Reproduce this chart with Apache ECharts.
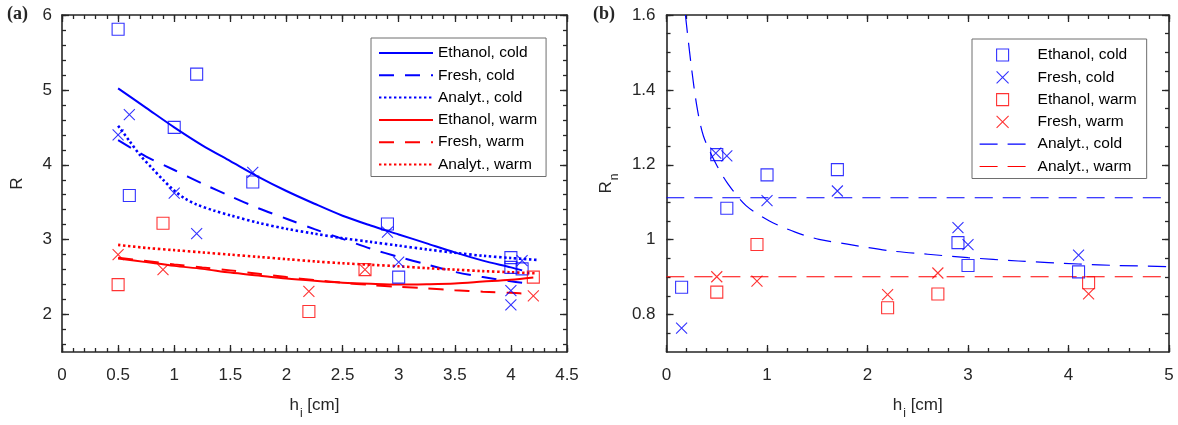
<!DOCTYPE html>
<html>
<head>
<meta charset="utf-8">
<script src="https://cdn.jsdelivr.net/npm/echarts@6/dist/echarts.min.js"></script>
<style>
  html, body { margin: 0; padding: 0; background: #fff; }
  #wrap { position: relative; width: 1178px; height: 425px; }
  #pa { position: absolute; left: 0; top: 0; width: 590px; height: 425px; }
  #pb { position: absolute; left: 590px; top: 0; width: 588px; height: 425px; }
</style>
</head>
<body>
<div id="wrap"><div id="pa"></div><div id="pb"></div></div>
<script>
// ---------- Panel (a): measured R ----------
const hEthColdA   = [0.5, 0.6, 1.0, 1.2, 1.7, 2.9, 3.0, 4.0, 4.0, 4.1];
const rEthColdA   = [5.81, 3.59, 4.50, 5.21, 3.77, 3.21, 2.50, 2.76, 2.63, 2.61];
const hFreshColdA = [0.5, 0.6, 1.0, 1.2, 1.7, 2.9, 3.0, 4.0, 4.0, 4.1];
const rFreshColdA = [4.40, 4.67, 3.62, 3.08, 3.90, 3.10, 2.70, 2.32, 2.13, 2.72];
const hEthWarmA   = [0.5, 0.9, 2.2, 2.7, 4.2];
const rEthWarmA   = [2.40, 3.22, 2.04, 2.60, 2.50];
const hFreshWarmA = [0.5, 0.9, 2.2, 2.7, 4.2];
const rFreshWarmA = [2.80, 2.60, 2.31, 2.60, 2.25];

// ---------- Panel (a): fitted and analytical curves ----------
const hEthColdFit   = [0.5, 0.75, 1.0, 1.25, 1.5, 1.75, 2.0, 2.25, 2.5, 2.75, 3.0, 3.25, 3.5, 3.75, 4.0, 4.1];
const rEthColdFit   = [5.02, 4.76, 4.50, 4.26, 4.05, 3.84, 3.65, 3.48, 3.32, 3.19, 3.07, 2.95, 2.83, 2.72, 2.63, 2.59];
const hFreshColdFit = [0.5, 0.75, 1.0, 1.25, 1.5, 1.75, 2.0, 2.25, 2.5, 2.75, 3.0, 3.25, 3.5, 3.75, 4.0, 4.1];
const rFreshColdFit = [4.33, 4.11, 3.93, 3.75, 3.58, 3.42, 3.28, 3.14, 3.01, 2.88, 2.77, 2.67, 2.57, 2.50, 2.445, 2.425];
const hAnaColdFit   = [0.5, 0.6, 0.7, 0.8, 0.9, 1.0, 1.1, 1.2, 1.35, 1.5, 1.75, 2.0, 2.25, 2.5, 2.75, 3.0, 3.25, 3.5, 3.75, 4.0, 4.23];
const rAnaColdFit   = [4.52, 4.32, 4.12, 3.96, 3.80, 3.655, 3.545, 3.47, 3.39, 3.325, 3.225, 3.145, 3.08, 3.02, 2.97, 2.92, 2.87, 2.825, 2.785, 2.755, 2.73];
const hEthWarmFit   = [0.5, 0.75, 1.0, 1.25, 1.5, 1.75, 2.0, 2.25, 2.5, 2.75, 3.0, 3.25, 3.5, 3.75, 4.0, 4.2];
const rEthWarmFit   = [2.75, 2.70, 2.65, 2.61, 2.56, 2.52, 2.48, 2.45, 2.425, 2.41, 2.40, 2.405, 2.415, 2.44, 2.465, 2.495];
const hFreshWarmFit = [0.5, 0.75, 1.0, 1.25, 1.5, 1.75, 2.0, 2.25, 2.5, 2.75, 3.0, 3.25, 3.5, 3.75, 4.0, 4.18];
const rFreshWarmFit = [2.76, 2.715, 2.67, 2.63, 2.59, 2.545, 2.50, 2.46, 2.425, 2.395, 2.37, 2.35, 2.325, 2.305, 2.29, 2.275];
const hAnaWarmFit   = [0.5, 0.75, 1.0, 1.25, 1.5, 1.75, 2.0, 2.25, 2.5, 2.75, 3.0, 3.25, 3.5, 3.75, 4.0, 4.22];
const rAnaWarmFit   = [2.93, 2.89, 2.86, 2.83, 2.80, 2.77, 2.74, 2.71, 2.685, 2.665, 2.645, 2.62, 2.60, 2.58, 2.565, 2.55];

// ---------- Panel (b): normalised Rn ----------
const hEthColdB   = [0.15, 0.5, 0.6, 1.0, 1.7, 2.9, 3.0, 4.1];
const rnEthColdB  = [0.873, 1.227, 1.084, 1.173, 1.187, 0.992, 0.931, 0.914];
const hFreshColdB = [0.15, 0.49, 0.6, 1.0, 1.7, 2.9, 3.0, 4.1];
const rnFreshColdB= [0.764, 1.231, 1.224, 1.104, 1.13, 1.032, 0.987, 0.959];
const hEthWarmB   = [0.5, 0.9, 2.2, 2.7, 4.2];
const rnEthWarmB  = [0.86, 0.987, 0.818, 0.855, 0.885];
const hFreshWarmB = [0.5, 0.9, 2.2, 2.7, 4.2];
const rnFreshWarmB= [0.901, 0.889, 0.853, 0.911, 0.855];

const hAnaColdB   = [0.188, 0.197, 0.246, 0.302, 0.367, 0.493, 0.611, 0.791, 1.024, 1.281, 1.517, 1.8, 2.2, 2.6, 3.0, 3.5, 4.1, 4.5, 5.0];
const rnAnaColdB  = [1.60, 1.578, 1.464, 1.356, 1.277, 1.202, 1.149, 1.091, 1.05, 1.02, 1.001, 0.988, 0.971, 0.961, 0.952, 0.943, 0.935, 0.931, 0.928];
const hMeanB      = [0, 5];
const rnMeanColdB = [1.112, 1.112];
const rnMeanWarmB = [0.901, 0.901];

// ---------- Axis ticks and labels ----------
const hTicksA  = [0, 0.5, 1, 1.5, 2, 2.5, 3, 3.5, 4, 4.5];
const rTicksA  = [2, 3, 4, 5, 6];
const hTicksB  = [0, 1, 2, 3, 4, 5];
const rnTicksB = [0.8, 1, 1.2, 1.4, 1.6];

const BLUE = '#0000ff';
const RED = '#ff0000';
const INK = '#262626';
const FONT = "'Liberation Sans', Arial, Helvetica, sans-serif";
const SQUARE = 'path://M0,0L10,0L10,10L0,10Z';
const CROSS = 'path://M0,0L10,10M10,0L0,10';

function pts(xs, ys) { return xs.map((x, i) => [x, ys[i]]); }
function steps(from, to, step) {
  const out = [];
  const n = Math.round((to - from) / step);
  for (let i = 0; i <= n; i++) out.push(Math.round((from + i * step) * 1000) / 1000);
  return out;
}

// Boxed axes with inward ticks on all four sides
function boxAxes(o) {
  const base = { type: 'value', min: o.min, max: o.max, splitLine: { show: false }, silent: true };
  const line = { show: true, onZero: false, lineStyle: { color: INK, width: 1.6 } };
  const tickStyle = { color: INK, width: 1.3 };
  const main = Object.assign({}, base, {
    position: o.pos[0],
    axisLine: line,
    axisTick: { show: true, inside: true, length: 7, customValues: o.major, lineStyle: tickStyle },
    axisLabel: { show: true, customValues: o.labels, margin: o.margin, color: INK, fontSize: 17, fontFamily: FONT },
    name: o.name, nameLocation: 'middle', nameGap: o.nameGap,
    nameTextStyle: { color: INK, fontFamily: FONT, rich: o.rich }
  });
  const minorMain = Object.assign({}, base, {
    position: o.pos[0],
    axisLine: { show: false, onZero: false },
    axisTick: { show: true, inside: true, length: 4, customValues: o.minor, lineStyle: tickStyle },
    axisLabel: { show: false }
  });
  const opp = Object.assign({}, base, {
    position: o.pos[1],
    axisLine: line,
    axisTick: { show: true, inside: true, length: 7, customValues: o.major, lineStyle: tickStyle },
    axisLabel: { show: false }
  });
  const minorOpp = Object.assign({}, minorMain, { position: o.pos[1] });
  return [main, minorMain, opp, minorOpp];
}

const subRich = {
  a: { fontSize: 17, lineHeight: 20, fontFamily: FONT, color: INK, verticalAlign: 'top' },
  b: { fontSize: 12, lineHeight: 12, fontFamily: FONT, color: INK, padding: [11, 0, 0, 1], verticalAlign: 'top' }
};

function markers(name, xs, ys, symbol, size, color) {
  return {
    type: 'scatter', name: name, data: pts(xs, ys), symbol: symbol, symbolSize: size,
    itemStyle: { color: 'rgba(0,0,0,0)', borderColor: color, borderWidth: 1.1 },
    z: 3
  };
}
function curve(name, xs, ys, color, width, dash) {
  return {
    type: 'line', name: name, data: pts(xs, ys), symbol: 'none', smooth: 0.3,
    color: color,
    lineStyle: { color: color, width: width, type: dash, cap: 'butt' },
    z: 2
  };
}

const DOT = [2.4, 2.6];
const DASH_A = [15, 11];
const DASH_B = [18, 10];

// ---------- Panel (a) ----------
const chartA = echarts.init(document.getElementById('pa'), null, { renderer: 'canvas' });
chartA.setOption({
  animation: false,
  textStyle: { fontFamily: FONT },
  title: { text: '(a)', left: 7, top: 5, padding: 0,
           textStyle: { fontFamily: "'Liberation Serif', 'Times New Roman', serif", fontWeight: 'bold', fontSize: 18, color: INK } },
  grid: { left: 62, top: 15, width: 505, height: 338, containLabel: false },
  xAxis: boxAxes({ min: 0, max: 4.5, pos: ['bottom', 'top'], major: hTicksA, labels: hTicksA,
                   minor: steps(0, 4.5, 0.1), margin: 15,
                   name: '{a|h}{b|i}{a| [cm]}', nameGap: 45, rich: subRich }),
  yAxis: boxAxes({ min: 1.5, max: 6, pos: ['left', 'right'], major: rTicksA, labels: rTicksA,
                   minor: steps(1.6, 6, 0.2), margin: 10,
                   name: '{a|R}', nameGap: 33, rich: subRich }),
  legend: {
    left: 371, top: 38, orient: 'vertical', selectedMode: false,
    data: ['Ethanol, cold', 'Fresh, cold', 'Analyt., cold', 'Ethanol, warm', 'Fresh, warm', 'Analyt., warm'],
    itemWidth: 54, itemHeight: 14, itemGap: 0.3,
    padding: [4, 9, 1, 7],
    backgroundColor: '#fff', borderColor: '#6e6e6e', borderWidth: 1, borderRadius: 0,
    itemStyle: { opacity: 0 },
    lineStyle: { width: 2 },
    textStyle: { fontSize: 15.5, color: '#000', lineHeight: 22, fontFamily: FONT }
  },
  series: [
    markers('Ethanol, cold (measured)', hEthColdA, rEthColdA, SQUARE, 12, BLUE),
    markers('Fresh, cold (measured)', hFreshColdA, rFreshColdA, CROSS, 11, BLUE),
    markers('Ethanol, warm (measured)', hEthWarmA, rEthWarmA, SQUARE, 12, RED),
    markers('Fresh, warm (measured)', hFreshWarmA, rFreshWarmA, CROSS, 11, RED),
    curve('Ethanol, cold', hEthColdFit, rEthColdFit, BLUE, 2, 'solid'),
    curve('Fresh, cold', hFreshColdFit, rFreshColdFit, BLUE, 2, DASH_A),
    curve('Analyt., cold', hAnaColdFit, rAnaColdFit, BLUE, 2.6, DOT),
    curve('Ethanol, warm', hEthWarmFit, rEthWarmFit, RED, 2, 'solid'),
    curve('Fresh, warm', hFreshWarmFit, rFreshWarmFit, RED, 2, DASH_A),
    curve('Analyt., warm', hAnaWarmFit, rAnaWarmFit, RED, 2.6, DOT)
  ]
});

// ---------- Panel (b) ----------
const chartB = echarts.init(document.getElementById('pb'), null, { renderer: 'canvas' });
chartB.setOption({
  animation: false,
  textStyle: { fontFamily: FONT },
  title: { text: '(b)', left: 3, top: 5, padding: 0,
           textStyle: { fontFamily: "'Liberation Serif', 'Times New Roman', serif", fontWeight: 'bold', fontSize: 18, color: INK } },
  grid: { left: 72, top: 15, width: 507, height: 339, containLabel: false },
  xAxis: boxAxes({ min: 0, max: 5, pos: ['bottom', 'top'], major: hTicksB, labels: hTicksB,
                   minor: steps(0, 5, 0.2), margin: 15,
                   name: '{a|h}{b|i}{a| [cm]}', nameGap: 45, rich: subRich }),
  yAxis: boxAxes({ min: 0.7, max: 1.6, pos: ['left', 'right'], major: rnTicksB, labels: rnTicksB,
                   minor: steps(0.75, 1.6, 0.05), margin: 11,
                   name: '{a|R}{b|n}', nameGap: 48, rich: subRich }),
  legend: {
    left: 382, top: 39, orient: 'vertical', selectedMode: false,
    data: [
      { name: 'Ethanol, cold', icon: SQUARE },
      { name: 'Fresh, cold', icon: CROSS },
      { name: 'Ethanol, warm', icon: SQUARE },
      { name: 'Fresh, warm', icon: CROSS },
      { name: 'Analyt., cold', itemStyle: { opacity: 0 } },
      { name: 'Analyt., warm', itemStyle: { opacity: 0 } }
    ],
    itemWidth: 46, itemHeight: 12, itemGap: 0.3,
    padding: [5, 10, 1, 7],
    backgroundColor: '#fff', borderColor: '#6e6e6e', borderWidth: 1, borderRadius: 0,
    itemStyle: { borderWidth: 1.1 },
    lineStyle: { width: 1.2 },
    textStyle: { fontSize: 15.5, color: '#000', lineHeight: 22, fontFamily: FONT, padding: [0, 0, 0, 7] }
  },
  series: [
    curve('Analyt., cold', hAnaColdB, rnAnaColdB, BLUE, 1.2, DASH_B),
    curve('Analyt., cold', hMeanB, rnMeanColdB, BLUE, 1.2, DASH_B),
    curve('Analyt., warm', hMeanB, rnMeanWarmB, RED, 1.2, DASH_B),
    markers('Ethanol, cold', hEthColdB, rnEthColdB, SQUARE, 12, BLUE),
    markers('Fresh, cold', hFreshColdB, rnFreshColdB, CROSS, 11, BLUE),
    markers('Ethanol, warm', hEthWarmB, rnEthWarmB, SQUARE, 12, RED),
    markers('Fresh, warm', hFreshWarmB, rnFreshWarmB, CROSS, 11, RED)
  ]
});
</script>
</body>
</html>
